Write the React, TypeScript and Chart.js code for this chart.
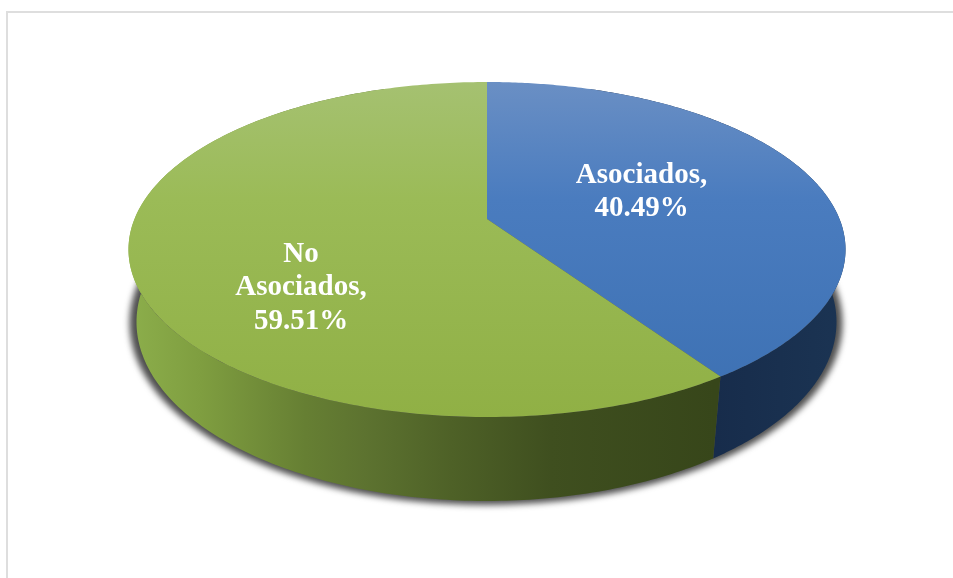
import React, { useEffect, useRef } from "react";
import { Chart, registerables } from "chart.js";

Chart.register(...registerables);

// Survey shares, in percent
const categories = ["Asociados", "No Asociados"];
const shares = [40.49, 59.51];

// Projection of a flat disc seen from above: a horizontal circle maps to an
// ellipse whose centre is pushed back by the perspective term.
type Disc = { cx: number; rx: number; top: number; bottom: number; persp: number };

const topDisc: Disc = { cx: 487, rx: 358.5, top: 82, bottom: 417, persp: -0.182 };
const baseDisc: Disc = { cx: 486.5, rx: 350, top: 143, bottom: 501, persp: -0.175 };

function project(d: Disc, angle: number, radius = 1): [number, number] {
  const a = d.persp;
  const A = d.rx * Math.sqrt(1 - a * a);
  const C = (d.bottom * (1 + a) + d.top * (1 - a)) / 2;
  const B = (d.bottom * (1 + a) - d.top * (1 - a)) / 2;
  const u = Math.cos(angle) * radius;
  const v = Math.sin(angle) * radius;
  const w = 1 + a * v;
  return [d.cx + (A * u) / w, (C + B * v) / w];
}

const topFills = [
  [[0, "#6a8fc4"], [0.35, "#4a7cbf"], [1, "#3c70b2"]],
  [[0, "#a5c171"], [0.35, "#9bbb57"], [1, "#90b045"]],
] as [number, string][][];

const wallFills = [
  [[0, "#172c4b"], [1, "#1b3453"]],
  [[0, "#8cae4b"], [0.12, "#7f9e40"], [0.3, "#667f33"], [0.4, "#5d7330"], [0.55, "#4e6127"], [0.72, "#3f4f1f"], [1, "#37461a"]],
] as [number, string][][];

// Extent of the side wall in angle: everything further back sits under the top face
const WALL_FROM = -Math.PI / 2 + (20 * Math.PI) / 180;
const WALL_TO = -Math.PI / 2 + (340 * Math.PI) / 180;

const labelCentres: [number, number][] = [
  [641.5, 192],
  [301, 288],
];

const FONT = "bold 29px 'Liberation Serif'";
const LINE_HEIGHT = 33.5;

function tracePoints(ctx: CanvasRenderingContext2D, pts: [number, number][]) {
  pts.forEach(([x, y], i) => (i ? ctx.lineTo(x, y) : ctx.moveTo(x, y)));
}

function arcPoints(d: Disc, from: number, to: number) {
  const steps = 240;
  const pts: [number, number][] = [];
  for (let i = 0; i <= steps; i++) pts.push(project(d, from + ((to - from) * i) / steps));
  return pts;
}

const discPlugin = {
  id: "perspectiveDisc",
  beforeDatasetsDraw(chart: Chart) {
    const ctx = chart.ctx;
    const arcs = chart.getDatasetMeta(0).data as any[];

    // Chart frame: only the top and left rules fall inside the canvas
    ctx.save();
    ctx.fillStyle = "#dedede";
    ctx.fillRect(6, 11, 2, 567);
    ctx.fillRect(6, 11, 947, 2);

    // Soft shadow under the base
    ctx.filter = "blur(3px)";
    ctx.fillStyle = "rgba(60,60,60,0.9)";
    ctx.beginPath();
    ctx.ellipse(baseDisc.cx - 0.5, 323, 356.5, 182, 0, 0, Math.PI * 2);
    ctx.fill();
    ctx.filter = "none";

    // Side wall of each slice
    arcs.forEach((arc, i) => {
      const from = Math.max(arc.startAngle, WALL_FROM);
      const to = Math.min(arc.endAngle, WALL_TO);
      if (to <= from) return;
      const grad = ctx.createLinearGradient(130, 0, 715, 0);
      const stops = i === 0 ? wallFills[0] : wallFills[1];
      if (i === 0) {
        const blue = ctx.createLinearGradient(715, 0, 846, 0);
        stops.forEach(([o, c]) => blue.addColorStop(o, c));
        ctx.fillStyle = blue;
      } else {
        stops.forEach(([o, c]) => grad.addColorStop(o, c));
        ctx.fillStyle = grad;
      }
      ctx.beginPath();
      tracePoints(ctx, arcPoints(topDisc, from, to));
      const back = arcPoints(baseDisc, from, to).reverse();
      back.forEach(([x, y]) => ctx.lineTo(x, y));
      ctx.closePath();
      ctx.fill();
    });

    // Top face of each slice
    const apex = project(topDisc, 0, 0);
    arcs.forEach((arc, i) => {
      const grad = ctx.createLinearGradient(0, topDisc.top, 0, topDisc.bottom);
      topFills[i].forEach(([o, c]) => grad.addColorStop(o, c));
      ctx.fillStyle = grad;
      ctx.beginPath();
      ctx.moveTo(apex[0], apex[1]);
      arcPoints(topDisc, arc.startAngle, arc.endAngle).forEach(([x, y]) => ctx.lineTo(x, y));
      ctx.closePath();
      ctx.fill();
    });

    // Slice captions
    ctx.fillStyle = "#ffffff";
    ctx.font = FONT;
    ctx.textAlign = "center";
    ctx.textBaseline = "middle";
    categories.forEach((name, i) => {
      const lines = `${name},`.split(" ").concat(`${shares[i].toFixed(2)}%`);
      const [x, y] = labelCentres[i];
      lines.forEach((line, n) => {
        ctx.fillText(line, x, y + (n - (lines.length - 1) / 2) * LINE_HEIGHT);
      });
    });
    ctx.restore();
    return false;
  },
};

export default function App() {
  const ref = useRef<HTMLCanvasElement>(null);
  useEffect(() => {
    const chart = new Chart(ref.current as HTMLCanvasElement, {
      type: "pie",
      data: {
        labels: categories,
        datasets: [{ data: shares }],
      },
      options: {
        responsive: false,
        animation: false,
        plugins: { legend: { display: false }, tooltip: { enabled: false } },
      },
      plugins: [discPlugin as any],
    });
    return () => chart.destroy();
  }, []);
  return (
    <div style={{ position: "fixed", left: 0, top: 0, background: "#fff" }}>
      <canvas ref={ref} width={953} height={578} style={{ display: "block" }} />
    </div>
  );
}
